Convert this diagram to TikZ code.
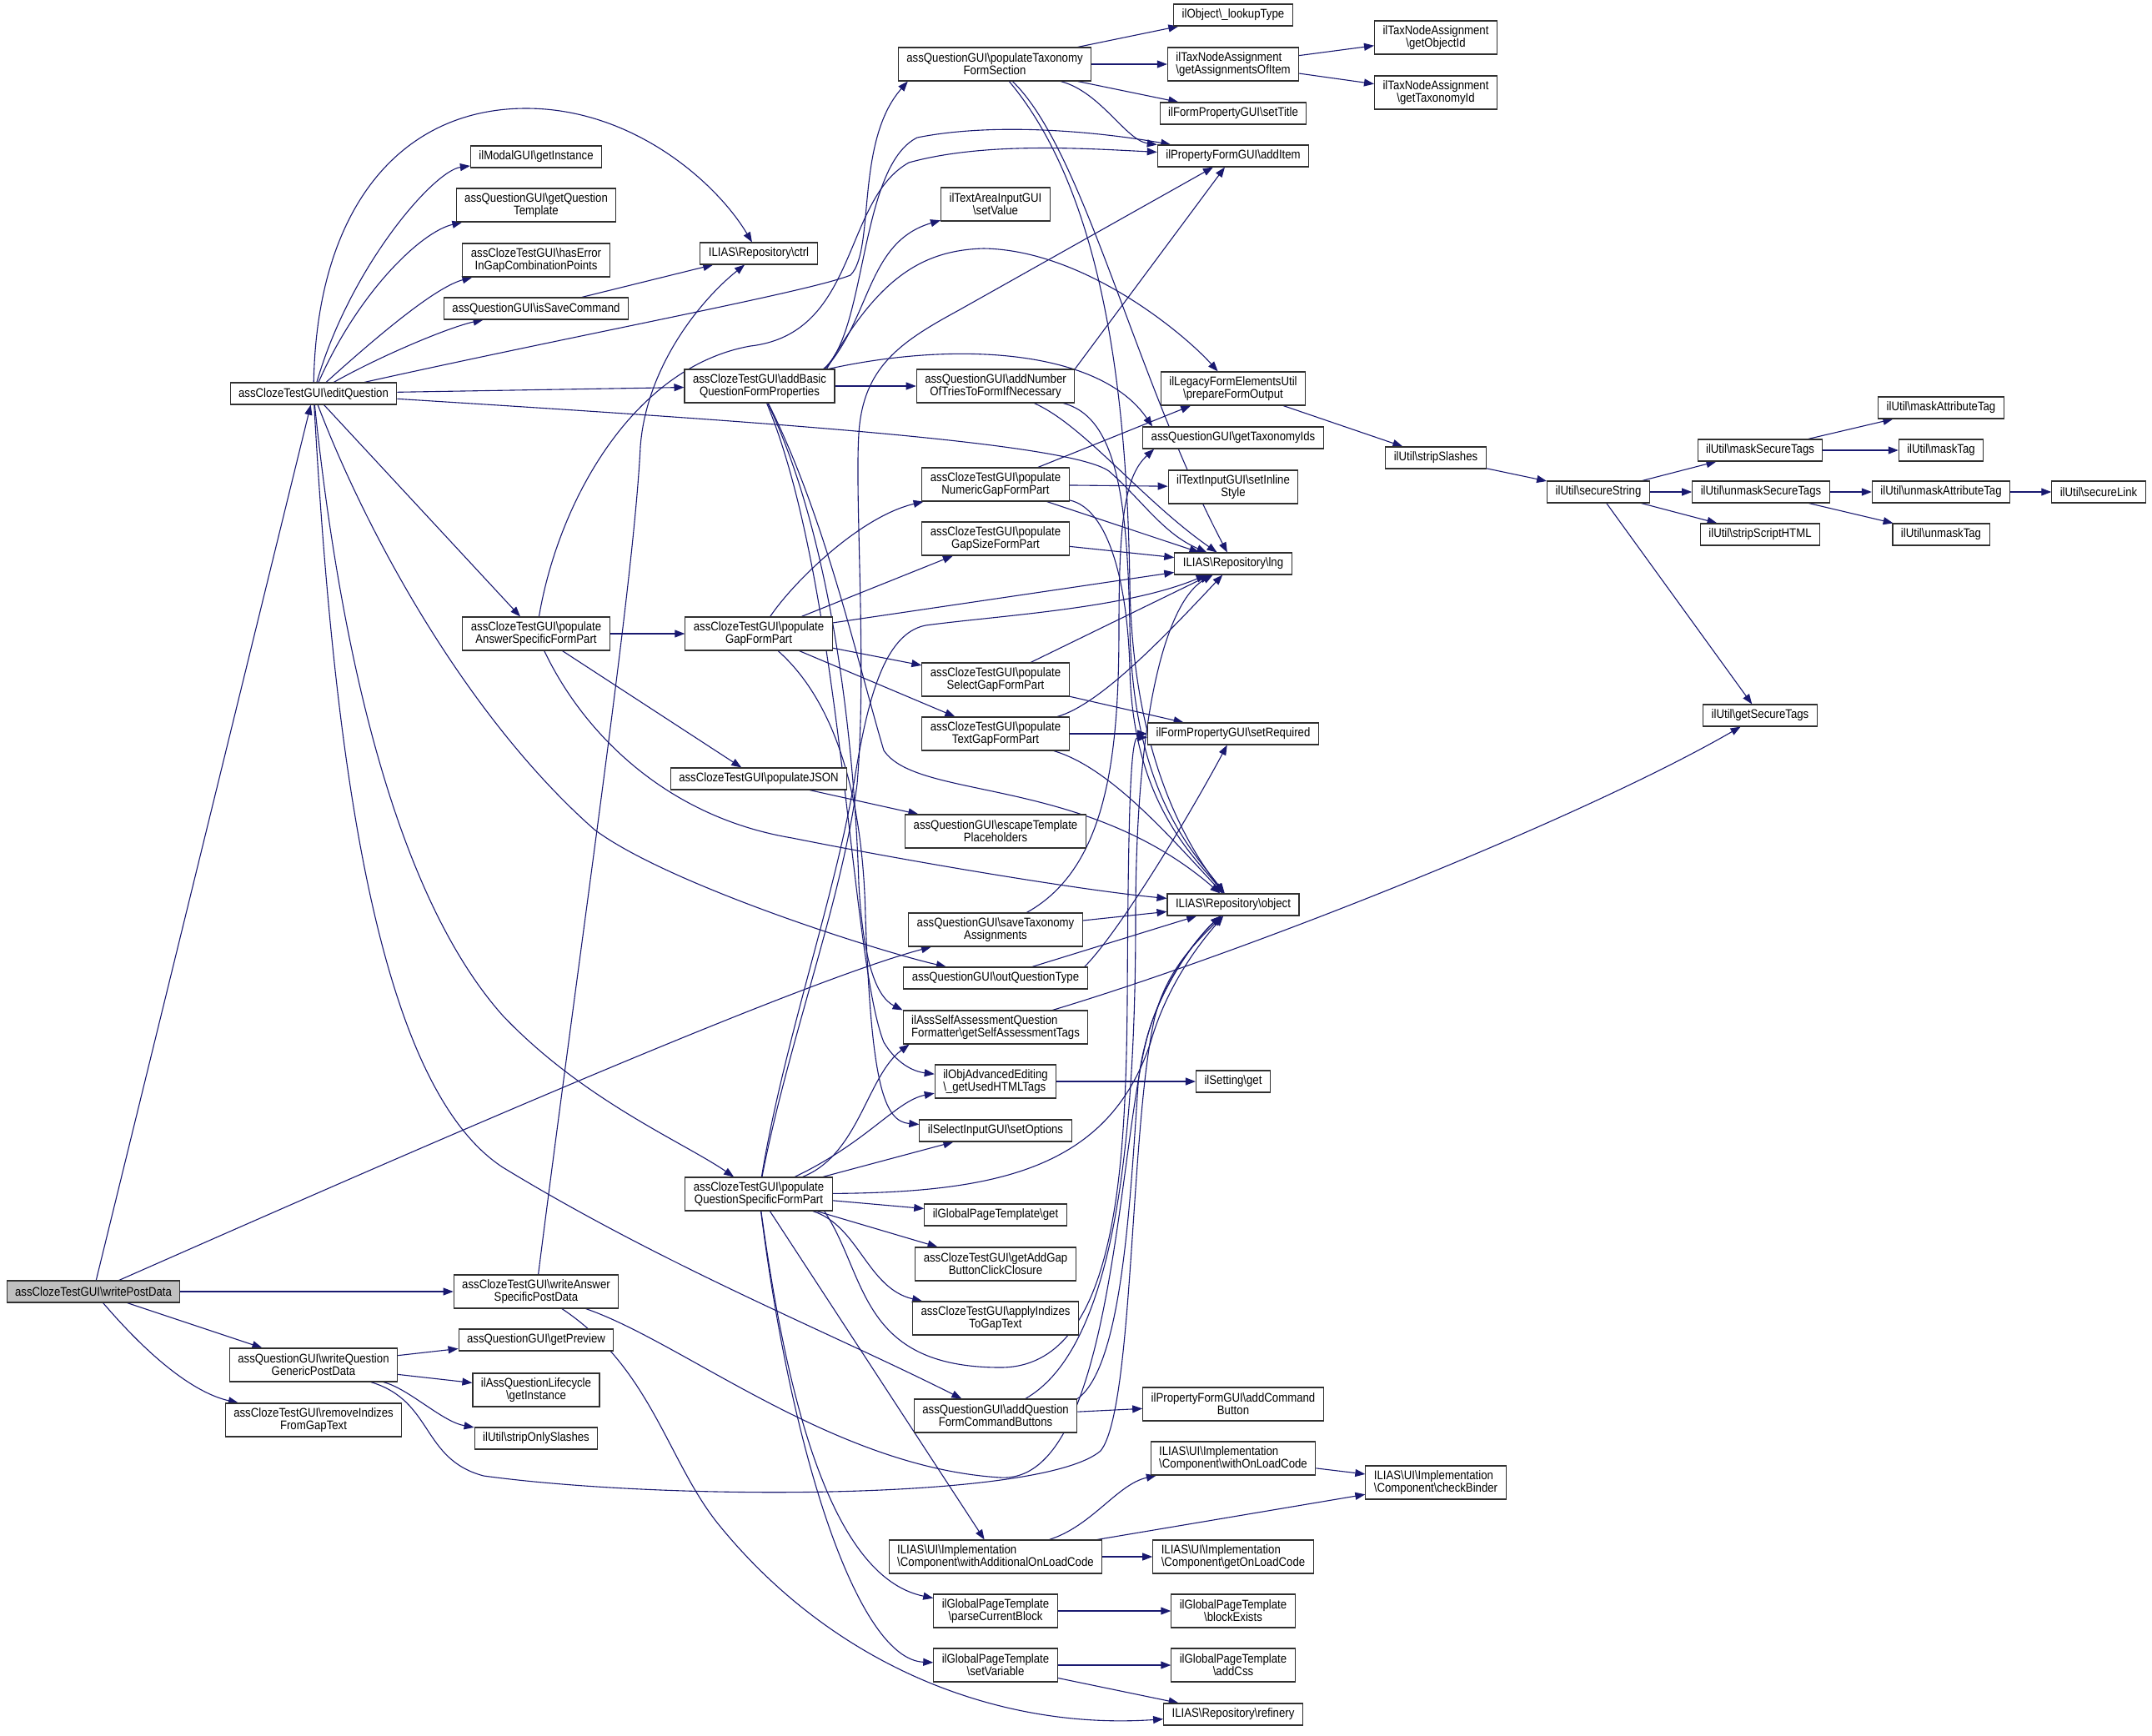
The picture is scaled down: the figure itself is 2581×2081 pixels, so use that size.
\documentclass[tikz,border=0pt]{standalone}
\usepackage{fontspec}
\setmainfont{Liberation Sans}[FakeStretch=0.88]
\usetikzlibrary{arrows.meta,backgrounds}
\definecolor{edgeblue}{HTML}{191970}
\definecolor{rootgray}{HTML}{BFBFBF}
\definecolor{boxline}{HTML}{303030}
\newcommand{\bsl}{\textbackslash}

\begin{document}
\begin{tikzpicture}[x=1pt,y=-1pt,
 fn/.style={draw=boxline, line width=1.1pt, fill=white, inner xsep=10pt, inner ysep=0pt,
   minimum height=26pt, align=center, font=\fontsize{15}{15}\selectfont},
 fntwo/.style={fn, minimum height=40pt},
 fnleft/.style={fntwo, align=left},
 root/.style={fn, fill=rootgray},
 call/.style={draw=edgeblue, line width=1.1pt, -{Triangle[length=12pt,width=9pt]}}]

 \useasboundingbox (0,0) rectangle (2581,2081);

 % caller and first level
 \node (wpd) at (112,1549) [root] {assClozeTestGUI\bsl writePostData};
 \node (eq) at (376,472) [fn] {assClozeTestGUI\bsl editQuestion};
 \node (wqg) at (376,1637) [fntwo] {assQuestionGUI\bsl writeQuestion\\GenericPostData};
 \node (rig) at (376,1703) [fntwo] {assClozeTestGUI\bsl removeIndizes\\FromGapText};

 % second column
 \node (mgi) at (643,188) [fn] {ilModalGUI\bsl getInstance};
 \node (gqt) at (643,246) [fntwo] {assQuestionGUI\bsl getQuestion\\Template};
 \node (hei) at (643,312) [fntwo] {assClozeTestGUI\bsl hasError\\InGapCombinationPoints};
 \node (isc) at (643,370) [fn] {assQuestionGUI\bsl isSaveCommand};
 \node (pasf) at (643,760) [fntwo] {assClozeTestGUI\bsl populate\\AnswerSpecificFormPart};
 \node (wasp) at (643,1549) [fntwo] {assClozeTestGUI\bsl writeAnswer\\SpecificPostData};
 \node (gpv) at (643,1607) [fn] {assQuestionGUI\bsl getPreview};
 \node (aql) at (643,1667) [fntwo] {ilAssQuestionLifecycle\\\bsl getInstance};
 \node (sos) at (643,1725) [fn] {ilUtil\bsl stripOnlySlashes};

 % third column
 \node (ctrl) at (910,304) [fn] {ILIAS\bsl Repository\bsl ctrl};
 \node (abq) at (911,463) [fntwo] {assClozeTestGUI\bsl addBasic\\QuestionFormProperties};
 \node (pgf) at (910,760) [fntwo] {assClozeTestGUI\bsl populate\\GapFormPart};
 \node (pjs) at (910,934) [fn] {assClozeTestGUI\bsl populateJSON};
 \node (pqsf) at (910,1432) [fntwo] {assClozeTestGUI\bsl populate\\QuestionSpecificFormPart};

 % fourth column
 \node (ptfs) at (1193,77) [fntwo] {assQuestionGUI\bsl populateTaxonomy\\FormSection};
 \node (stv) at (1194,245) [fntwo] {ilTextAreaInputGUI\\\bsl setValue};
 \node (ant) at (1194,463) [fntwo] {assQuestionGUI\bsl addNumber\\OfTriesToFormIfNecessary};
 \node (png) at (1194,581) [fntwo] {assClozeTestGUI\bsl populate\\NumericGapFormPart};
 \node (pgs) at (1194,646) [fntwo] {assClozeTestGUI\bsl populate\\GapSizeFormPart};
 \node (psg) at (1194,815) [fntwo] {assClozeTestGUI\bsl populate\\SelectGapFormPart};
 \node (ptg) at (1194,880) [fntwo] {assClozeTestGUI\bsl populate\\TextGapFormPart};
 \node (etp) at (1194,997) [fntwo] {assQuestionGUI\bsl escapeTemplate\\Placeholders};
 \node (sta) at (1194,1115) [fntwo] {assQuestionGUI\bsl saveTaxonomy\\Assignments};
 \node (oqt) at (1194,1173) [fn] {assQuestionGUI\bsl outQuestionType};
 \node (sat) at (1194,1232) [fnleft] {ilAssSelfAssessmentQuestion\\Formatter\bsl getSelfAssessmentTags};
 \node (uht) at (1194,1297) [fnleft] {ilObjAdvancedEditing\\\bsl \_getUsedHTMLTags};
 \node (sop) at (1194,1356) [fn] {ilSelectInputGUI\bsl setOptions};
 \node (gpt) at (1194,1457) [fn] {ilGlobalPageTemplate\bsl get};
 \node (agb) at (1194,1516) [fntwo] {assClozeTestGUI\bsl getAddGap\\ButtonClickClosure};
 \node (aig) at (1194,1581) [fntwo] {assClozeTestGUI\bsl applyIndizes\\ToGapText};
 \node (aqf) at (1194,1698) [fntwo] {assQuestionGUI\bsl addQuestion\\FormCommandButtons};
 \node (wal) at (1194,1867) [fnleft] {ILIAS\bsl UI\bsl Implementation\\\bsl Component\bsl withAdditionalOnLoadCode};
 \node (pcb) at (1194,1932) [fntwo] {ilGlobalPageTemplate\\\bsl parseCurrentBlock};
 \node (svr) at (1194,1997) [fntwo] {ilGlobalPageTemplate\\\bsl setVariable};

 % fifth column
 \node (lut) at (1479,18) [fn] {ilObject\bsl \_lookupType};
 \node (gai) at (1479,77) [fnleft] {ilTaxNodeAssignment\\\bsl getAssignmentsOfItem};
 \node (sti) at (1479,136) [fn] {ilFormPropertyGUI\bsl setTitle};
 \node (adi) at (1479,187) [fn] {ilPropertyFormGUI\bsl addItem};
 \node (pfo) at (1479,466) [fntwo] {ilLegacyFormElementsUtil\\\bsl prepareFormOutput};
 \node (gti) at (1479,525) [fn] {assQuestionGUI\bsl getTaxonomyIds};
 \node (sis) at (1479,584) [fntwo] {ilTextInputGUI\bsl setInline\\Style};
 \node (lng) at (1479,676) [fn] {ILIAS\bsl Repository\bsl lng};
 \node (srq) at (1479,880) [fn] {ilFormPropertyGUI\bsl setRequired};
 \node (obj) at (1479,1085) [fn] {ILIAS\bsl Repository\bsl object};
 \node (sgt) at (1479,1297) [fn] {ilSetting\bsl get};
 \node (acb) at (1479,1684) [fntwo] {ilPropertyFormGUI\bsl addCommand\\Button};
 \node (wol) at (1479,1749) [fnleft] {ILIAS\bsl UI\bsl Implementation\\\bsl Component\bsl withOnLoadCode};
 \node (gol) at (1479,1867) [fnleft] {ILIAS\bsl UI\bsl Implementation\\\bsl Component\bsl getOnLoadCode};
 \node (bex) at (1479,1932) [fntwo] {ilGlobalPageTemplate\\\bsl blockExists};
 \node (acs) at (1479,1997) [fntwo] {ilGlobalPageTemplate\\\bsl addCss};
 \node (ref) at (1479,2056) [fn] {ILIAS\bsl Repository\bsl refinery};

 % right part
 \node (goi) at (1722,45) [fntwo] {ilTaxNodeAssignment\\\bsl getObjectId};
 \node (gtx) at (1722,111) [fntwo] {ilTaxNodeAssignment\\\bsl getTaxonomyId};
 \node (ssl) at (1722,549) [fn] {ilUtil\bsl stripSlashes};
 \node (cbd) at (1722,1778) [fnleft] {ILIAS\bsl UI\bsl Implementation\\\bsl Component\bsl checkBinder};
 \node (sst) at (1917,590) [fn] {ilUtil\bsl secureString};
 \node (mst) at (2111,540) [fn] {ilUtil\bsl maskSecureTags};
 \node (ust) at (2112,590) [fn] {ilUtil\bsl unmaskSecureTags};
 \node (ssh) at (2111,641) [fn] {ilUtil\bsl stripScriptHTML};
 \node (gst) at (2111,858) [fn] {ilUtil\bsl getSecureTags};
 \node (mat) at (2328,489) [fn] {ilUtil\bsl maskAttributeTag};
 \node (mtg) at (2328,540) [fn] {ilUtil\bsl maskTag};
 \node (uat) at (2328,590) [fn] {ilUtil\bsl unmaskAttributeTag};
 \node (utg) at (2328,641) [fn] {ilUtil\bsl unmaskTag};
 \node (sln) at (2517,590) [fn] {ilUtil\bsl secureLink};

 \begin{scope}[on background layer]
 % writePostData
 \draw[call] (wpd) -- (eq);
 \draw[call] (wpd) .. controls (450,1400) and (950,1180) .. (sta);
 \draw[call] (wpd) -- (wasp);
 \draw[call] (wpd) -- (wqg);
 \draw[call] (wpd) .. controls (190,1640) and (240,1672) .. (rig);

 % editQuestion
 \draw[call] (eq) .. controls (420,320) and (520,205) .. (mgi);
 \draw[call] (eq) .. controls (430,350) and (505,278) .. (gqt);
 \draw[call] (eq) .. controls (445,410) and (520,345) .. (hei);
 \draw[call] (eq) .. controls (460,425) and (540,392) .. (isc);
 \draw[call] (eq) .. controls (380,250) and (480,130) .. (631,130)
   .. controls (760,130) and (860,220) .. (ctrl);
 \draw[call] (eq) .. controls (700,400) and (970,350) .. (1020,330)
   .. controls (1050,300) and (1025,170) .. ([xshift=12pt]ptfs.south west);
 \draw[call] (eq) -- (abq);
 \draw[call] (eq) .. controls (900,505) and (1280,530) .. (1330,565)
   .. controls (1370,600) and (1395,640) .. (lng);
 \draw[call] (eq) -- (pasf);
 \draw[call] (eq) .. controls (440,640) and (560,860) .. (713,995)
   .. controls (800,1060) and (1050,1140) .. (oqt);
 \draw[call] (eq) .. controls (410,800) and (480,1080) .. (603,1218)
   .. controls (700,1320) and (820,1370) .. (pqsf);
 \draw[call] (eq) .. controls (400,900) and (450,1300) .. (603,1400)
   .. controls (800,1520) and (1000,1600) .. (aqf);
 \draw[call] (isc) -- (ctrl);

 % writeAnswerSpecificPostData
 \draw[call] (wasp) .. controls (700,1100) and (760,700) .. (768,536)
   .. controls (775,440) and (840,360) .. (ctrl);
 \draw[call] (wasp) .. controls (820,1610) and (1000,1760) .. (1200,1772)
   .. controls (1340,1780) and (1340,1350) .. (1380,1230)
   .. controls (1400,1170) and (1440,1120) .. (obj);
 \draw[call] (wasp) .. controls (780,1640) and (800,1750) .. (860,1826)
   .. controls (1000,2000) and (1200,2075) .. (ref);

 % writeQuestionGenericPostData
 \draw[call] (wqg) -- (gpv);
 \draw[call] (wqg) -- (aql);
 \draw[call] (wqg) .. controls (490,1665) and (530,1705) .. (sos);
 \draw[call] (wqg) .. controls (520,1680) and (505,1750) .. (580,1770)
   .. controls (800,1800) and (1250,1800) .. (1320,1740)
   .. controls (1360,1690) and (1355,1350) .. (1385,1220)
   .. controls (1400,1160) and (1440,1125) .. (obj);

 % populateAnswerSpecificFormPart
 \draw[call] (pasf) .. controls (670,600) and (760,440) .. (900,415)
   .. controls (1030,400) and (1010,240) .. (1090,195)
   .. controls (1180,170) and (1300,178) .. (adi);
 \draw[call] (pasf) -- (pgf);
 \draw[call] (pasf) -- (pjs);
 \draw[call] (pasf) .. controls (700,880) and (800,980) .. (950,1005)
   .. controls (1100,1035) and (1300,1068) .. (obj);

 % addBasicQuestionFormProperties
 \draw[call] ([xshift=-14pt]abq.north east) .. controls (1040,400) and (1030,200) .. (1100,165)
   .. controls (1200,145) and (1330,160) .. (adi);
 \draw[call] ([xshift=-12pt]abq.north east) .. controls (1045,380) and (1040,290) .. (stv);
 \draw[call] ([xshift=-10pt]abq.north east) .. controls (1050,340) and (1100,300) .. (1180,298)
   .. controls (1300,300) and (1420,400) .. (pfo);
 \draw[call] ([xshift=-8pt]abq.north east) .. controls (1150,408) and (1320,420) .. ([xshift=12pt]gti.north west);
 \draw[call] (abq) -- (ant);
 \draw[call] (abq) .. controls (990,620) and (1030,800) .. (1060,900)
   .. controls (1100,960) and (1300,930) .. (obj);
 \draw[call] (abq) .. controls (1000,650) and (1025,900) .. (1030,1060)
   .. controls (1035,1150) and (1050,1195) .. (sat.north west);
 \draw[call] (abq) .. controls (1010,700) and (1020,1150) .. (1060,1250)
   .. controls (1075,1275) and (1095,1285) .. (uht);

 % populateGapFormPart
 \draw[call] (pgf) .. controls (950,700) and (1030,620) .. (png);
 \draw[call] (pgf) -- (pgs);
 \draw[call] (pgf) -- (lng);
 \draw[call] (pgf) -- (psg);
 \draw[call] (pgf) -- (ptg);
 \draw[call] (pgf) .. controls (1000,840) and (1035,950) .. (1038,1100)
   .. controls (1045,1300) and (1060,1345) .. (sop);

 % populateTaxonomyFormSection
 \draw[call] (ptfs) -- (lut);
 \draw[call] (ptfs) -- (gai);
 \draw[call] (ptfs) -- (sti);
 \draw[call] (ptfs) .. controls (1320,110) and (1350,168) .. (adi);
 \draw[call] (ptfs) .. controls (1300,180) and (1360,450) .. (lng);
 \draw[call] (ptfs) .. controls (1330,240) and (1352,500) .. (1355,700)
   .. controls (1358,900) and (1420,1010) .. (obj);
 \draw[call] (gai) -- (goi);
 \draw[call] (gai) -- (gtx);

 % addNumberOfTriesToFormIfNecessary
 \draw[call] (ant.north east) -- (adi);
 \draw[call] (ant) .. controls (1300,510) and (1370,600) .. (lng);
 \draw[call] (ant) .. controls (1340,500) and (1352,600) .. (1355,750)
   .. controls (1358,950) and (1430,1020) .. (obj);

 % gap form parts
 \draw[call] (png) -- (pfo);
 \draw[call] (png) -- (sis);
 \draw[call] (png) -- (lng);
 \draw[call] (png) .. controls (1330,610) and (1352,700) .. (1355,800)
   .. controls (1358,960) and (1430,1025) .. (obj);
 \draw[call] (pgs) -- (lng);
 \draw[call] (psg) -- (lng);
 \draw[call] (psg) -- (srq);
 \draw[call] (ptg) .. controls (1320,845) and (1400,760) .. (lng);
 \draw[call] (ptg) -- (srq);
 \draw[call] (ptg) .. controls (1330,920) and (1400,1000) .. (obj);
 \draw[call] (pjs) -- (etp);

 % taxonomy, question type, tags
 \draw[call] (sta) .. controls (1330,1040) and (1342,900) .. (1342,750)
   .. controls (1342,620) and (1350,570) .. ([xshift=14pt]gti.south west);
 \draw[call] (sta) -- (obj);
 \draw[call] ([xshift=-4pt]oqt.north east) .. controls (1340,1120) and (1420,990) .. (srq);
 \draw[call] (oqt) -- (obj);
 \draw[call] (sat) .. controls (1500,1140) and (1900,980) .. (gst);
 \draw[call] (uht) -- (sgt);

 % populateQuestionSpecificFormPart
 \draw[call] (pqsf) .. controls (1030,1385) and (1040,1290) .. ([xshift=8pt]sat.south west);
 \draw[call] (pqsf) .. controls (1040,1370) and (1075,1320) .. (uht);
 \draw[call] (pqsf) -- (sop);
 \draw[call] (pqsf) -- (gpt);
 \draw[call] (pqsf) -- (agb);
 \draw[call] (pqsf) .. controls (1030,1470) and (1040,1545) .. (aig);
 \draw[call] ([xshift=-10pt]pqsf.south east) .. controls (1040,1530) and (1030,1640) .. (1200,1640)
   .. controls (1340,1640) and (1350,1400) .. (1352,1200)
   .. controls (1353,1000) and (1355,885) .. (srq);
 \draw[call] (pqsf) .. controls (940,1250) and (1000,1080) .. (1024,940)
   .. controls (1040,840) and (1060,760) .. (1110,750)
   .. controls (1200,738) and (1350,730) .. (lng);
 \draw[call] (pqsf) .. controls (945,1250) and (1010,1080) .. (1028,940)
   .. controls (1040,800) and (1025,600) .. (1030,520)
   .. controls (1035,440) and (1080,410) .. (1150,372) -- (adi);
 \draw[call] (pqsf) .. controls (1200,1430) and (1330,1400) .. (1380,1250)
   .. controls (1400,1180) and (1440,1130) .. (obj);
 \draw[call] (pqsf) -- (wal);
 \draw[call] (pqsf) .. controls (940,1650) and (990,1890) .. (pcb);
 \draw[call] (pqsf) .. controls (950,1750) and (1030,1990) .. (svr);

 % addQuestionFormCommandButtons
 \draw[call] (aqf) -- (acb);
 \draw[call] (aqf.north east) .. controls (1345,1640) and (1355,1450) .. (1365,1300)
   .. controls (1375,1200) and (1430,1130) .. (obj);
 \draw[call] (aqf) .. controls (1330,1620) and (1362,1400) .. (1362,1100)
   .. controls (1362,850) and (1400,720) .. (lng);

 % UI components and page template
 \draw[call] (wal) .. controls (1310,1830) and (1340,1780) .. (wol);
 \draw[call] (wal) -- (cbd);
 \draw[call] (wal) -- (gol);
 \draw[call] (wol) -- (cbd);
 \draw[call] (pcb) -- (bex);
 \draw[call] (svr) -- (acs);
 \draw[call] (svr) -- (ref);

 % ilUtil
 \draw[call] (pfo) -- (ssl);
 \draw[call] (ssl) -- (sst);
 \draw[call] (sst) -- (mst);
 \draw[call] (sst) -- (ust);
 \draw[call] (sst) -- (ssh);
 \draw[call] (sst) -- (gst);
 \draw[call] (mst) -- (mat);
 \draw[call] (mst) -- (mtg);
 \draw[call] (ust) -- (uat);
 \draw[call] (ust) -- (utg);
 \draw[call] (uat) -- (sln);
 \end{scope}
\end{tikzpicture}
\end{document}
